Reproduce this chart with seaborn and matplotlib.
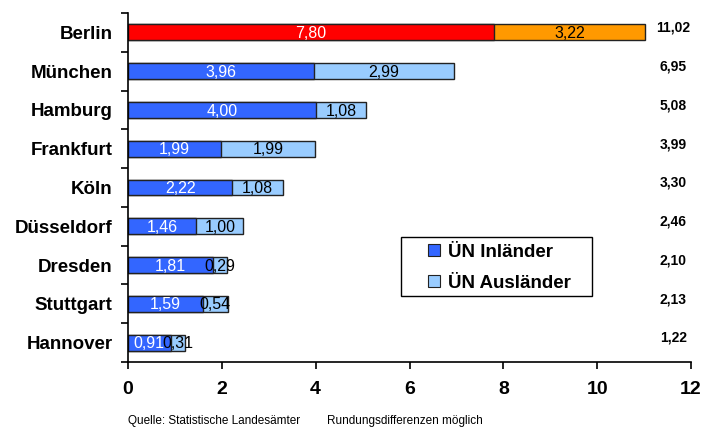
import matplotlib
matplotlib.use("Agg")
import matplotlib.pyplot as plt
from matplotlib.patches import Patch, Rectangle
import seaborn as sns
import pandas as pd
import numpy as np

cities = ["Berlin", "München", "Hamburg", "Frankfurt", "Köln", "Düsseldorf", "Dresden", "Stuttgart", "Hannover"]
inlaender = [7.80, 3.96, 4.00, 1.99, 2.22, 1.46, 1.81, 1.59, 0.91]
auslaender = [3.22, 2.99, 1.08, 1.99, 1.08, 1.00, 0.29, 0.54, 0.31]
totals = [11.02, 6.95, 5.08, 3.99, 3.30, 2.46, 2.10, 2.13, 1.22]
xticks = [0, 2, 4, 6, 8, 10, 12]
legend_labels = ["ÜN Inländer", "ÜN Ausländer"]

C_IN = "#3366FF"
C_AUS = "#99CCFF"
C_IN_B = "#FF0000"
C_AUS_B = "#FF9900"

sns.set_style("white")
plt.rcParams["font.family"] = ["Liberation Sans", "DejaVu Sans"]
plt.rcParams["text.color"] = "black"
plt.rcParams["xtick.color"] = "black"
plt.rcParams["ytick.color"] = "black"

df = pd.DataFrame({"city": cities, "inl": inlaender, "aus": auslaender})
df["sum"] = df["inl"] + df["aus"]

pal_sum = {c: (C_AUS_B if c == "Berlin" else C_AUS) for c in cities}
pal_in = {c: (C_IN_B if c == "Berlin" else C_IN) for c in cities}

fig = plt.figure(figsize=(7.03, 4.30), dpi=100)
ax = fig.add_axes([128/703, 1-362/430, 563/703, 349/430])

sns.barplot(data=df, x="sum", y="city", hue="city", palette=pal_sum, order=cities,
            width=0.41, edgecolor="#222222", linewidth=1.0, legend=False, ax=ax, orient="h",
            saturation=1)
sns.barplot(data=df, x="inl", y="city", hue="city", palette=pal_in, order=cities,
            width=0.41, edgecolor="#222222", linewidth=1.0, legend=False, ax=ax, orient="h",
            saturation=1)

for i, (a, b, t) in enumerate(zip(inlaender, auslaender, totals)):
    ax.text(a/2, i + 0.03, f"{a:.2f}".replace(".", ","), ha="center", va="center",
            color="white", fontsize=11.5)
    ax.text(a + b/2, i + 0.03, f"{b:.2f}".replace(".", ","), ha="center", va="center",
            color="black", fontsize=11.5)
    ax.text(11.62, i - 0.12, f"{t:.2f}".replace(".", ","), ha="center", va="center",
            color="black", fontsize=10, fontweight="bold")

ax.set_xlim(0, 12)
ax.set_ylim(8.5, -0.5)
ax.set_xticks(xticks)
ax.set_xticklabels([str(x) for x in xticks], fontsize=14, fontweight="bold")
ax.set_yticks(range(len(cities)))
ax.set_yticklabels(cities, fontsize=13.5, fontweight="bold")
ax.set_yticks(np.arange(-0.5, len(cities), 1.0), minor=True)
ax.tick_params(axis="y", which="major", length=0, pad=11)
ax.tick_params(axis="y", which="minor", length=5, width=1.2, color="black", direction="out", left=True)
ax.tick_params(axis="x", length=5, width=1.2, color="black", direction="out", bottom=True, pad=9)
ax.set_xlabel("")
ax.set_ylabel("")
for s in ["top", "right"]:
    ax.spines[s].set_visible(False)
for s in ["left", "bottom"]:
    ax.spines[s].set_color("black")
    ax.spines[s].set_linewidth(1.2)

# legend frame
ax.add_patch(Rectangle((0.485, 0.189), 0.339, 0.169, transform=ax.transAxes,
                       facecolor="white", edgecolor="black", linewidth=1.0, zorder=4))
handles = [Patch(facecolor=C_IN, edgecolor="#222222", linewidth=0.8),
           Patch(facecolor=C_AUS, edgecolor="#222222", linewidth=0.8)]
leg = ax.legend(handles, legend_labels, loc="upper left", bbox_to_anchor=(0.525, 0.352),
                borderaxespad=0, frameon=False, prop={"size": 13.5, "weight": "bold"},
                handlelength=0.6, handleheight=0.6, handletextpad=0.45, borderpad=0.25,
                labelspacing=0.75)
leg.set_zorder(5)

fig.text(128/703, 1-421/430, "Quelle: Statistische Landesämter", fontsize=8.5, va="center", ha="left")
fig.text(327/703, 1-421/430, "Rundungsdifferenzen möglich", fontsize=8.5, va="center", ha="left")

fig.savefig("out.png", dpi=100)
